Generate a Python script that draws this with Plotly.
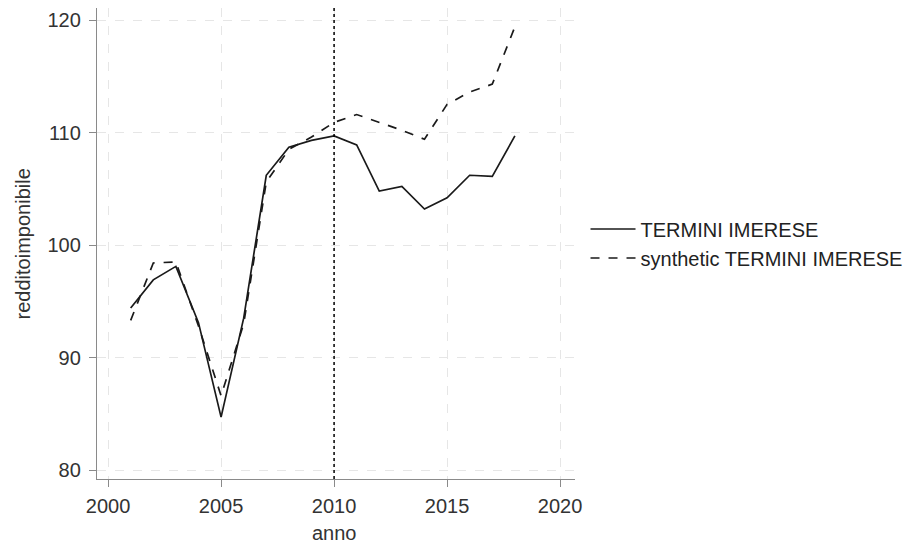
import plotly.graph_objects as go

years = list(range(2001, 2019))
termini = [94.4, 96.9, 98.1, 93.1, 84.7, 93.5, 106.2, 108.7, 109.3, 109.7,
           108.9, 104.8, 105.2, 103.2, 104.2, 106.2, 106.1, 109.7]
synthetic = [93.3, 98.4, 98.5, 92.8, 86.6, 93.0, 105.6, 108.5, 109.6, 110.9,
             111.6, 110.9, 110.2, 109.4, 112.5, 113.6, 114.3, 119.4]
treatment_year = 2010
x_ticks = [2000, 2005, 2010, 2015, 2020]
y_ticks = [80, 90, 100, 110, 120]

font = "Liberation Sans, Arial, sans-serif"
fsize = 20

fig = go.Figure()
fig.add_trace(go.Scatter(x=years, y=termini, mode="lines", name="TERMINI IMERESE",
                         line=dict(color="#1a1a1a", width=1.7)))
fig.add_trace(go.Scatter(x=years, y=synthetic, mode="lines", name="synthetic TERMINI IMERESE",
                         line=dict(color="#1a1a1a", width=1.7, dash="dash")))
fig.add_vline(x=treatment_year, line=dict(color="black", width=1.5, dash="dot"))

axis_common = dict(
    showline=True, linecolor="#8a8a8a", linewidth=1.3,
    ticks="outside", ticklen=7, tickcolor="#8a8a8a",
    showgrid=True, gridcolor="#e6e6e6", gridwidth=1, griddash="dash",
    zeroline=False, tickfont=dict(family=font, size=fsize, color="#333333"),
    automargin=False,
)

fig.update_layout(
    width=922, height=543,
    margin=dict(l=89, r=355, t=0, b=72),
    paper_bgcolor="white", plot_bgcolor="white",
    font=dict(family=font, size=fsize, color="#333333"),
    xaxis=dict(range=[1999.51, 2020.66], tickvals=x_ticks, ticklabelstandoff=2, **axis_common),
    yaxis=dict(range=[79.2, 121.07], tickvals=y_ticks, ticklabelstandoff=4, **axis_common),
    legend=dict(x=1.022, y=0.5, xanchor="left", yanchor="middle",
                font=dict(family=font, size=fsize, color="#222222"),
                bgcolor="rgba(0,0,0,0)", tracegroupgap=0, itemwidth=45),
    showlegend=True,
    annotations=[
        dict(text="redditoimponibile", xref="paper", yref="paper", x=-0.155, y=0.5,
             xanchor="center", yanchor="middle", textangle=-90, showarrow=False,
             font=dict(family=font, size=fsize, color="#333333")),
        dict(text="anno", xref="paper", yref="paper", x=(treatment_year - 1999.51) / (2020.66 - 1999.51),
             y=-0.1146, xanchor="center", yanchor="middle", showarrow=False,
             font=dict(family=font, size=fsize, color="#333333")),
    ],
)

fig.write_html("out.html")
